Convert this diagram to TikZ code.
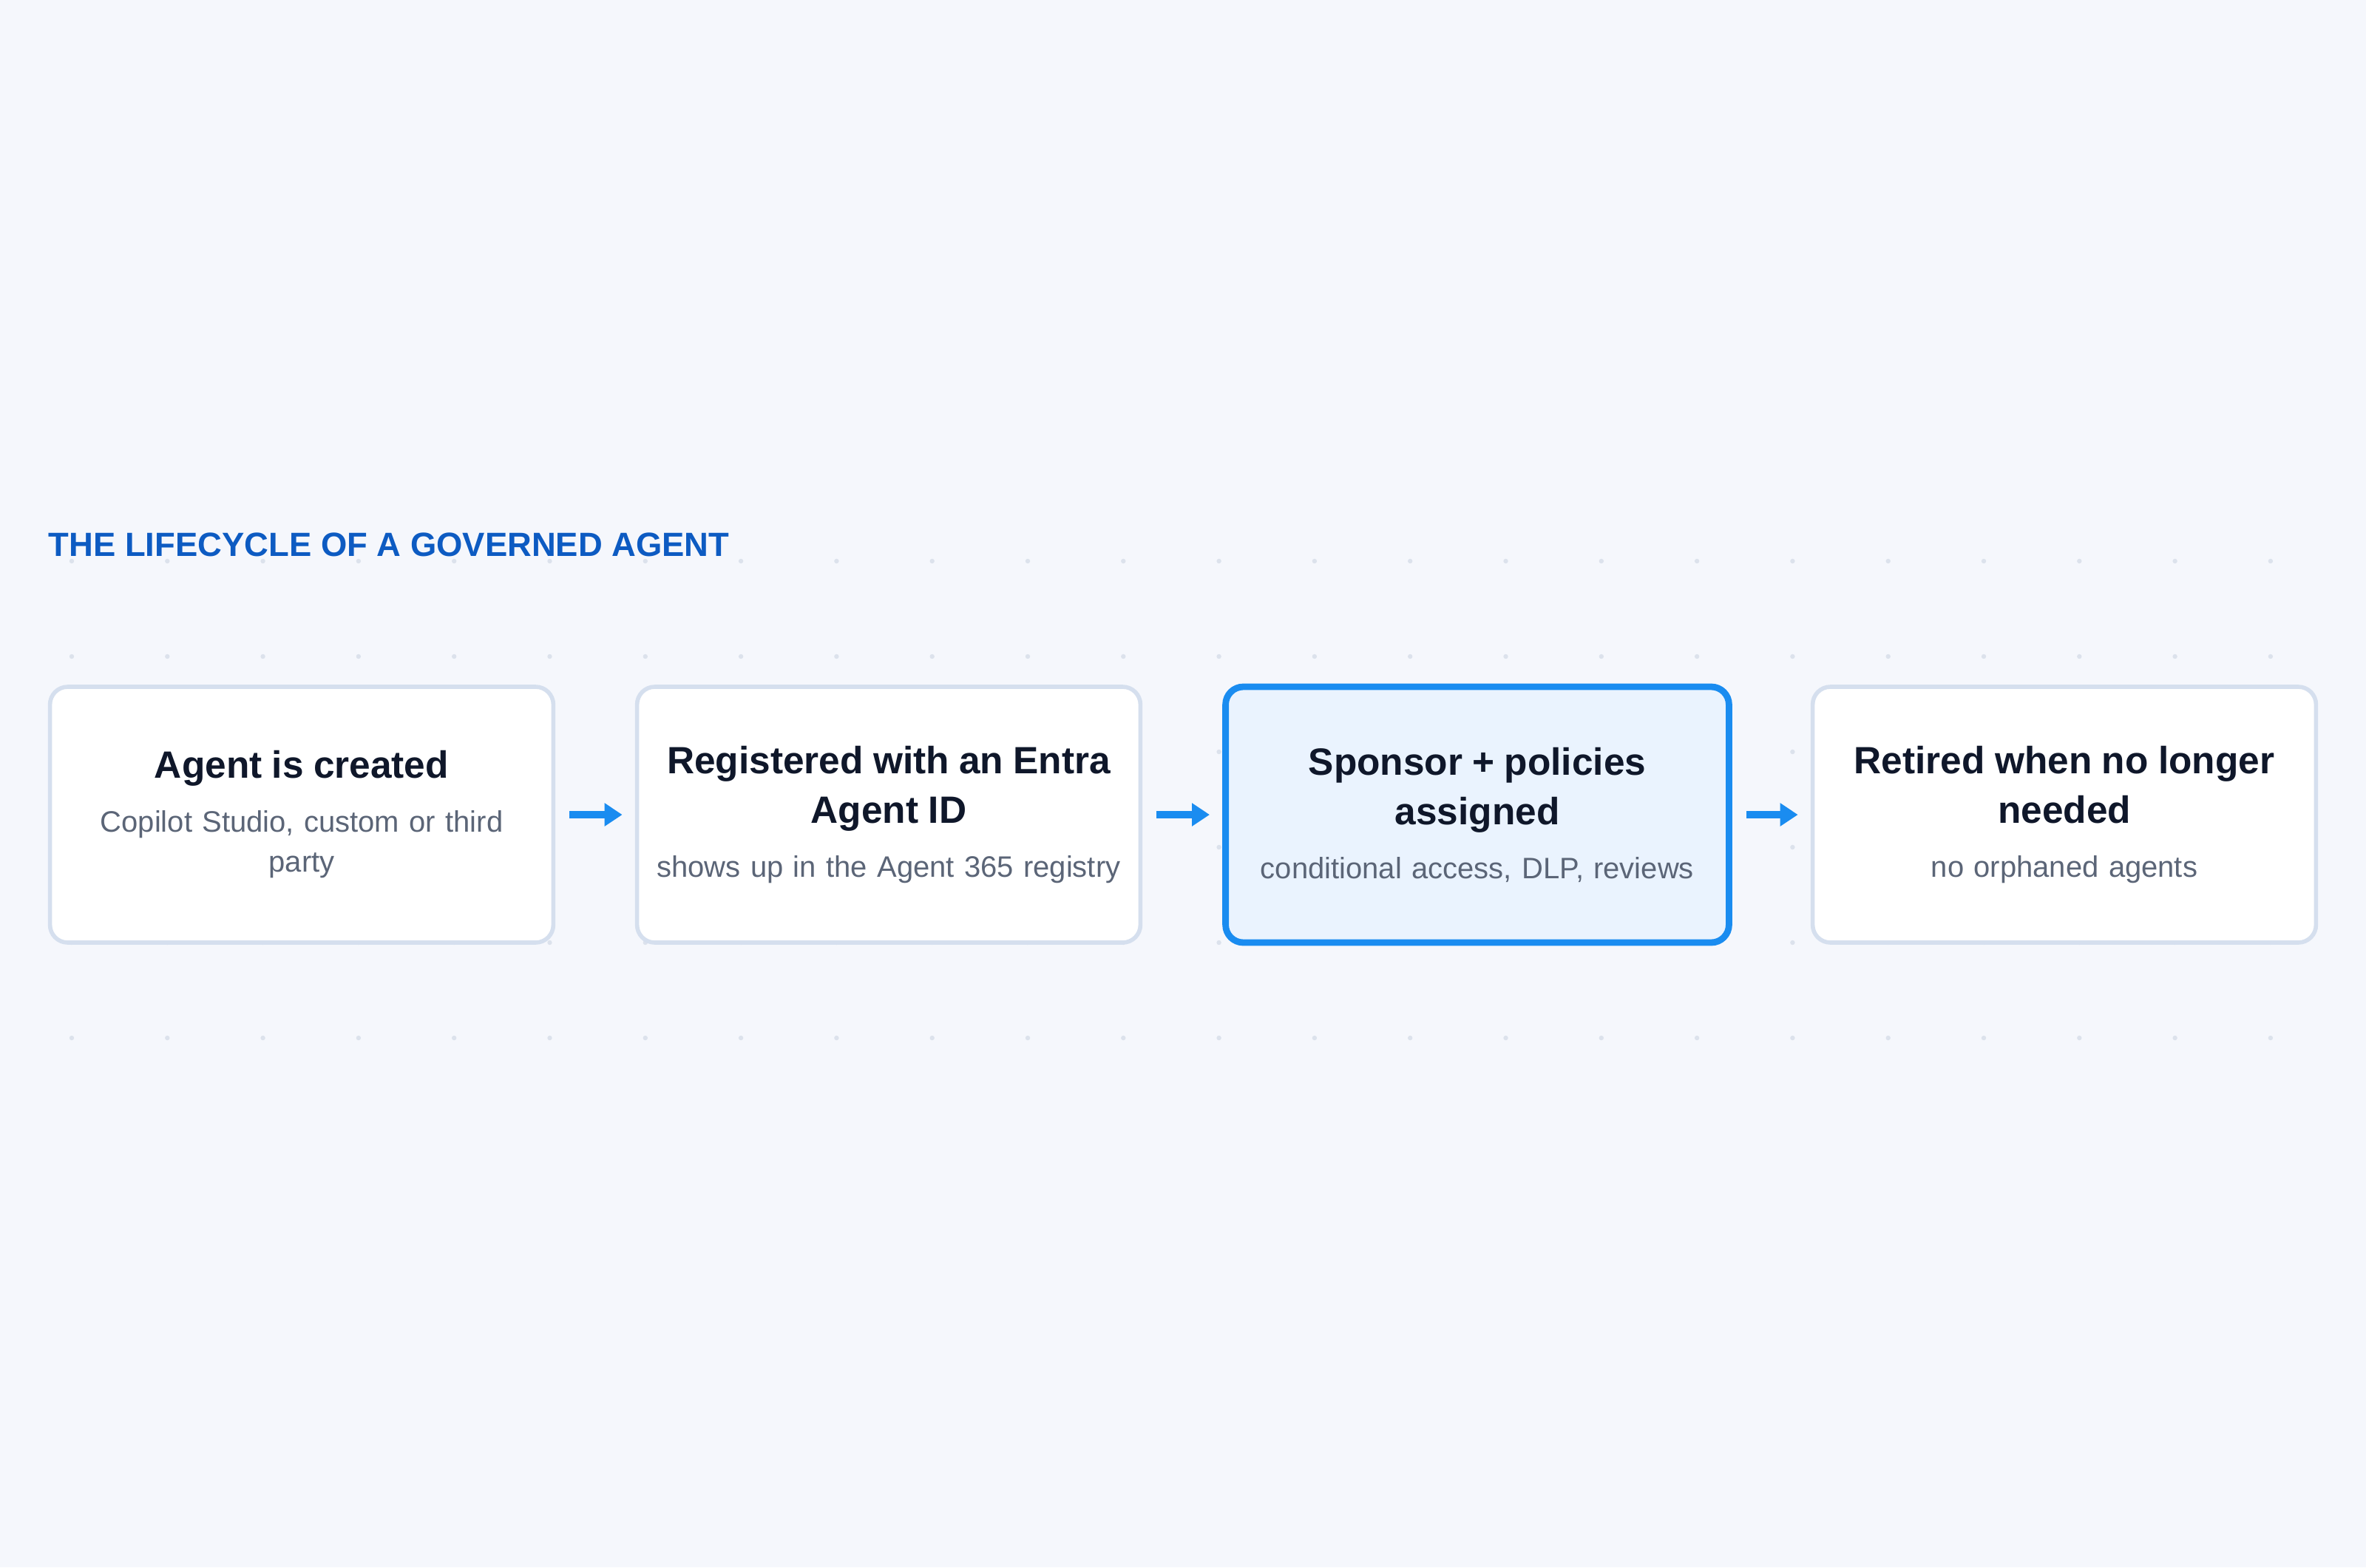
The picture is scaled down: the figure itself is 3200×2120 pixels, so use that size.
\documentclass[tikz,border=0pt]{standalone}
\usepackage{fontspec}
\setmainfont{Liberation Sans}
\usetikzlibrary{arrows.meta}
\definecolor{bgc}{HTML}{F5F7FC}
\definecolor{dotc}{HTML}{DCE2EC}
\definecolor{boxborder}{HTML}{D5DFEE}
\definecolor{hlborder}{HTML}{1A8CF0}
\definecolor{hlfill}{HTML}{EAF3FE}
\definecolor{arrowc}{HTML}{1A8CF0}
\definecolor{headc}{HTML}{0D5BC2}
\definecolor{ttlc}{HTML}{0F172A}
\definecolor{subc}{HTML}{5B6577}
\newcommand\boxtext[2]{{\fontsize{12.85}{16.75}\selectfont\bfseries\color{ttlc}#1\par}\vspace{4.75pt}{\fontsize{10}{13.5}\selectfont\color{subc}#2\par}}
\tikzset{
  stagebox/.style={draw=boxborder, line width=1.4pt, fill=white, rounded corners=6pt,
    minimum width=170.2pt, minimum height=86.5pt, text width=160pt, align=center, inner sep=0pt},
  hlbox/.style={stagebox, draw=hlborder, fill=hlfill, line width=2.2pt},
  flowarrow/.style={draw=arrowc, line width=2.6pt, -{Triangle[length=6pt,width=7.5pt]},
    shorten <=4.8pt, shorten >=4.3pt},
}
\begin{document}
\begin{tikzpicture}[x=0.25pt,y=-0.25pt]
\fill[bgc] (0,0) rectangle (3200,2120);
\useasboundingbox (0,0) rectangle (3200,2120);
\foreach \i in {0,...,23}{
  \foreach \j in {0,...,5}{
    \fill[dotc] (97+129.3*\i, 759+129*\j) circle[radius=0.8pt];
  }
}
\node[anchor=base west, font=\fontsize{11.35}{14}\selectfont\bfseries, text=headc, inner sep=0pt] (heading) at (65,752) {THE LIFECYCLE OF A GOVERNED AGENT};
\node[stagebox] (b1) at (408,1102) {\boxtext{Agent is created}{Copilot Studio, custom or third\\party}};
\node[stagebox] (b2) at (1202,1102) {\boxtext{Registered with an Entra\\Agent ID}{shows up in the Agent 365 registry}};
\node[hlbox] (b3) at (1998,1102) {\boxtext{Sponsor + policies\\assigned}{conditional access, DLP, reviews}};
\node[stagebox] (b4) at (2792,1102) {\boxtext{Retired when no longer\\needed}{no orphaned agents}};
\draw[flowarrow] (b1.east) -- (b2.west);
\draw[flowarrow] (b2.east) -- (b3.west);
\draw[flowarrow] (b3.east) -- (b4.west);
\end{tikzpicture}
\end{document}
